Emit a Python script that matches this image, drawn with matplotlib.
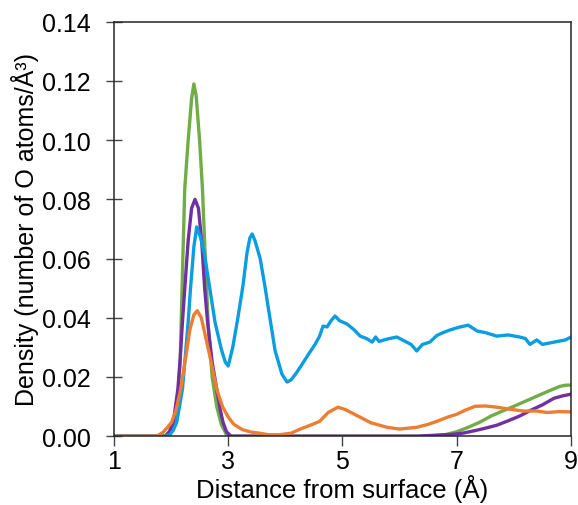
import matplotlib
matplotlib.use("Agg")
import matplotlib.pyplot as plt
from matplotlib.ticker import FormatStrFormatter

plt.rcParams["font.family"] = ["Liberation Sans", "DejaVu Sans"]

# distance (A) and density values
green_x = [1.0, 1.9, 2.0, 2.07, 2.12, 2.16, 2.20, 2.24, 2.30, 2.36, 2.40, 2.44, 2.50,
           2.55, 2.60, 2.65, 2.72, 2.80, 2.88, 2.97, 3.05, 6.5, 6.8, 7.0, 7.2, 7.4, 7.6,
           7.8, 8.0, 8.2, 8.4, 8.6, 8.8, 8.9, 9.0]
green_y = [0, 0, 0.002, 0.005, 0.012, 0.025, 0.055, 0.0835, 0.100, 0.114, 0.119, 0.115, 0.100,
           0.0835, 0.060, 0.038, 0.020, 0.010, 0.004, 0.0005, 0, 0, 0.0005, 0.0015, 0.003, 0.0047, 0.0068,
           0.0085, 0.0101, 0.0118, 0.0135, 0.0152, 0.0168, 0.0172, 0.0173]

purple_x = [1.0, 1.9, 1.97, 2.04, 2.12, 2.16, 2.20, 2.24, 2.30, 2.36, 2.42, 2.48, 2.54,
            2.59, 2.64, 2.72, 2.80, 2.86, 2.91, 2.97, 3.05, 6.3, 6.6, 6.9, 7.1, 7.3, 7.5,
            7.7, 7.9, 8.1, 8.3, 8.5, 8.7, 8.85, 9.0]
purple_y = [0, 0, 0.0015, 0.0047, 0.0159, 0.026, 0.0385, 0.0497, 0.066, 0.077, 0.080, 0.077, 0.065,
            0.0497, 0.0385, 0.025, 0.0159, 0.009, 0.0047, 0.0015, 0, 0, 0.0003, 0.0006, 0.001, 0.0018, 0.0027,
            0.0037, 0.0052, 0.0068, 0.0088, 0.0106, 0.0128, 0.0136, 0.0142]

blue_x = [1.0, 1.9, 1.98, 2.04, 2.10, 2.20, 2.25, 2.30, 2.34, 2.40, 2.45, 2.52, 2.59, 2.68, 2.77,
          2.88, 2.95, 3.0, 3.08, 3.17, 3.26, 3.33, 3.38, 3.42, 3.47, 3.56, 3.64, 3.73, 3.82,
          3.94, 4.03, 4.1, 4.18, 4.26, 4.35, 4.43, 4.52, 4.6, 4.66, 4.73, 4.8, 4.87, 4.95,
          5.08, 5.2, 5.31, 5.42, 5.52, 5.58, 5.64, 5.78, 5.95, 6.1, 6.2, 6.3, 6.4, 6.53,
          6.65, 6.76, 6.9, 7.06, 7.2, 7.36, 7.5, 7.7, 7.9, 8.1, 8.2, 8.28, 8.4, 8.5, 8.63,
          8.76, 8.9, 9.0]
blue_y = [0, 0, 0.0005, 0.002, 0.0047, 0.0159, 0.027, 0.0385, 0.0497, 0.064, 0.0707, 0.067, 0.0609, 0.0497, 0.0385,
          0.0294, 0.025, 0.0237, 0.030, 0.040, 0.051, 0.062, 0.067, 0.0683, 0.066, 0.060, 0.051, 0.040, 0.029,
          0.021, 0.0183, 0.019, 0.021, 0.0233, 0.026, 0.0284, 0.031, 0.0338, 0.0372, 0.0369, 0.039, 0.0406, 0.039,
          0.0379, 0.036, 0.0338, 0.033, 0.0318, 0.0335, 0.032, 0.0328, 0.0335, 0.032, 0.031, 0.0288, 0.031, 0.0318,
          0.034, 0.035, 0.036, 0.0369, 0.0375, 0.0355, 0.035, 0.0338, 0.0342, 0.0335, 0.033, 0.031, 0.0325, 0.031, 0.0315,
          0.032, 0.0325, 0.0335]

orange_x = [1.0, 1.75, 1.86, 1.94, 2.01, 2.09, 2.17, 2.26, 2.33, 2.40, 2.46, 2.53, 2.60, 2.68, 2.80,
            2.90, 3.0, 3.1, 3.25, 3.4, 3.55, 3.7, 3.9, 4.1, 4.26, 4.45, 4.6, 4.75, 4.92,
            5.05, 5.2, 5.31, 5.5, 5.78, 6.0, 6.3, 6.5, 6.65, 6.85, 7.0, 7.15, 7.32, 7.5, 7.7,
            7.9, 8.16, 8.4, 8.58, 8.8, 9.0]
orange_y = [0, 0, 0.0013, 0.003, 0.0047, 0.009, 0.0159, 0.027, 0.036, 0.041, 0.0424, 0.040, 0.034, 0.027, 0.0159,
            0.010, 0.0065, 0.004, 0.0022, 0.0014, 0.001, 0.0005, 0.0005, 0.001, 0.0024, 0.0038, 0.005, 0.008, 0.0098,
            0.009, 0.0075, 0.0064, 0.0045, 0.003, 0.0024, 0.003, 0.004, 0.005, 0.0065, 0.0074, 0.0088, 0.0101, 0.0102, 0.0098,
            0.0092, 0.0085, 0.0085, 0.008, 0.0083, 0.0082]

x_ticks = [1, 3, 5, 7, 9]
y_ticks = [0.00, 0.02, 0.04, 0.06, 0.08, 0.10, 0.12, 0.14]

fig = plt.figure(figsize=(5.78, 5.06), dpi=100)
ax = fig.add_axes([0.197, 0.136, 0.791, 0.819])

lw = 2.4
ax.plot(green_x, green_y, color="#70ad47", lw=lw)
ax.plot(purple_x, purple_y, color="#7030a0", lw=lw)
ax.plot(blue_x, blue_y, color="#0a9de0", lw=lw)
ax.plot(orange_x, orange_y, color="#ed7d31", lw=lw)

ax.set_xlim(1, 9)
ax.set_ylim(0, 0.14)
ax.set_xticks(x_ticks)
ax.set_yticks(y_ticks)
ax.yaxis.set_major_formatter(FormatStrFormatter("%.2f"))

for s in ax.spines.values():
    s.set_color("#262626")
    s.set_linewidth(1.1)
ax.tick_params(axis="y", direction="inout", length=11, width=1, color="#444444",
               labelsize=18, pad=11)
ax.tick_params(axis="x", direction="out", length=7, width=1, color="#444444",
               labelsize=18, pad=2)

ax.set_xlabel("Distance from surface (Å)", fontsize=18.5, labelpad=1)
ax.set_ylabel("Density (number of O atoms/Å³)", fontsize=18, labelpad=2)

fig.savefig("out.png", dpi=100)
